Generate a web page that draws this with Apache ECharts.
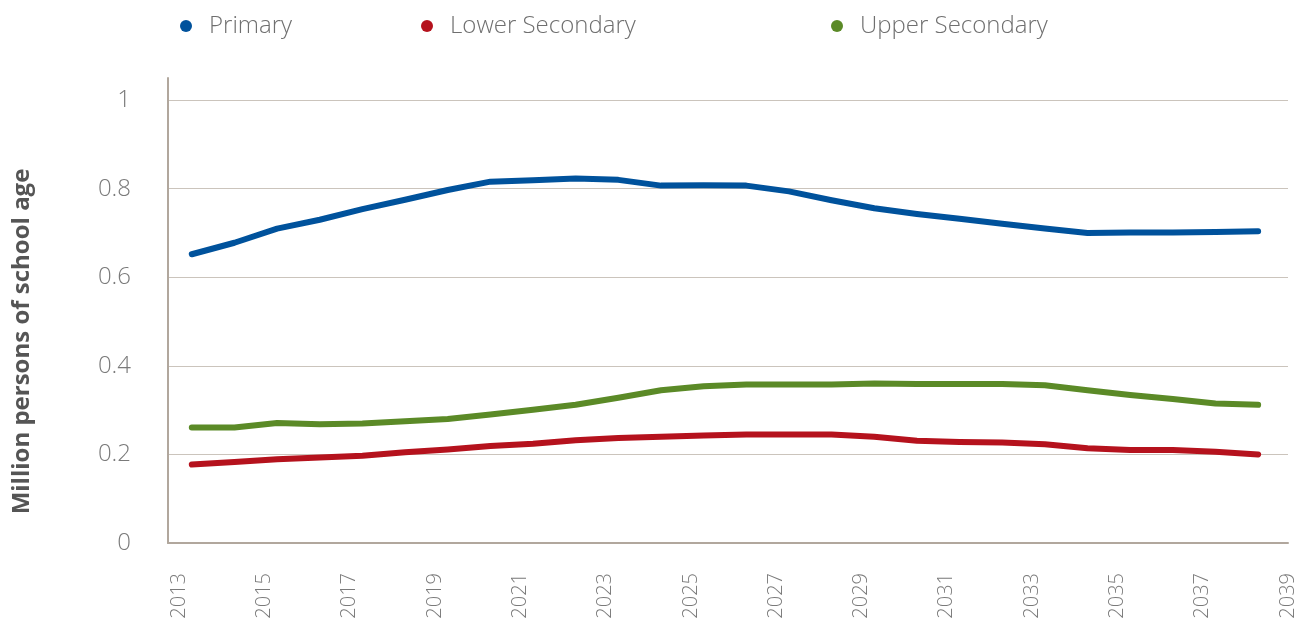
<!DOCTYPE html>
<html lang="en">
<head>
    <meta charset="UTF-8">
    <title>School age population</title>
    <script src="https://cdn.jsdelivr.net/npm/echarts@6/dist/echarts.min.js"></script>
    <style>
        html, body {
            margin: 0;
            height: 100%;
            background: #fff;
        }
    </style>
</head>
<body>
<div id="main" style="width: 1304px;height: 629px"></div>
</body>
</html>
<script>
    // annual values, million persons
    var years = [2013, 2014, 2015, 2016, 2017, 2018, 2019, 2020, 2021, 2022, 2023, 2024, 2025,
        2026, 2027, 2028, 2029, 2030, 2031, 2032, 2033, 2034, 2035, 2036, 2037, 2038];
    var primary = [0.652, 0.678, 0.710, 0.730, 0.754, 0.775, 0.797, 0.816, 0.819, 0.823, 0.820, 0.807, 0.808,
        0.807, 0.794, 0.774, 0.756, 0.743, 0.732, 0.721, 0.710, 0.700, 0.701, 0.701, 0.702, 0.704];
    var lowerSecondary = [0.177, 0.183, 0.189, 0.193, 0.197, 0.205, 0.211, 0.219, 0.224, 0.232, 0.237, 0.240, 0.243,
        0.245, 0.245, 0.245, 0.240, 0.231, 0.228, 0.227, 0.223, 0.214, 0.210, 0.210, 0.206, 0.200];
    var upperSecondary = [0.261, 0.261, 0.271, 0.268, 0.270, 0.275, 0.280, 0.290, 0.301, 0.312, 0.328, 0.345, 0.354,
        0.358, 0.358, 0.358, 0.360, 0.359, 0.359, 0.359, 0.356, 0.345, 0.334, 0.325, 0.315, 0.312];
    var yearTicks = [2013, 2015, 2017, 2019, 2021, 2023, 2025, 2027, 2029, 2031, 2033, 2035, 2037, 2039];
    var valueTicks = [0, 0.2, 0.4, 0.6, 0.8, 1];

    var font = 'Open Sans';
    // points sit a little past the year tick in the original
    var shift = 0.3;

    function pairs(vals) {
        var out = [];
        for (var i = 0; i < years.length; i++) {
            out.push([years[i] + shift, vals[i]]);
        }
        return out;
    }

    function lineSeries(name, color, vals) {
        return {
            name: name,
            type: 'line',
            showSymbol: false,
            symbol: 'circle',
            lineStyle: {color: color, width: 6, cap: 'round', join: 'round'},
            itemStyle: {color: color},
            data: pairs(vals)
        };
    }

    function legendAt(name, left) {
        return {
            data: [name],
            left: left,
            top: 9,
            icon: 'circle',
            itemWidth: 12,
            itemHeight: 12,
            selectedMode: false,
            textStyle: {color: '#6f6f6f', fontSize: 24, fontFamily: font, fontWeight: 300, padding: [0, 0, 0, 12]}
        };
    }

    var myChart = echarts.init(document.getElementById('main'));
    var option = {
        animation: false,
        legend: [
            legendAt('Primary', 175),
            legendAt('Lower Secondary', 416),
            legendAt('Upper Secondary', 826)
        ],
        grid: {left: 168, right: 16, top: 78, bottom: 86},
        xAxis: {
            type: 'value',
            min: 2012.742,
            max: 2039,
            axisLine: {show: true, lineStyle: {color: '#b1a79d', width: 2}},
            axisTick: {show: false, customValues: yearTicks},
            splitLine: {show: false},
            axisLabel: {
                customValues: yearTicks,
                formatter: function (v) {
                    return String(v);
                },
                rotate: 90,
                margin: 30,
                color: '#7a7a7a',
                fontSize: 20,
                fontFamily: font,
                fontWeight: 300
            }
        },
        yAxis: {
            type: 'value',
            min: 0,
            max: 1.05,
            name: 'Million persons of school age',
            nameLocation: 'middle',
            nameGap: 134,
            nameRotate: 90,
            nameTextStyle: {color: '#555', fontSize: 24, fontWeight: 'bold', fontFamily: font, padding: [0, 62, 0, 0]},
            axisLine: {show: true, lineStyle: {color: '#b1a79d', width: 2}},
            axisTick: {show: false, customValues: valueTicks},
            splitLine: {show: true, lineStyle: {color: '#cbc4bc', width: 1}},
            axisLabel: {
                customValues: valueTicks,
                margin: 37,
                color: '#7a7a7a',
                fontSize: 24,
                fontFamily: font,
                fontWeight: 300
            }
        },
        series: [
            lineSeries('Primary', '#00529c', primary),
            lineSeries('Lower Secondary', '#b5121d', lowerSecondary),
            lineSeries('Upper Secondary', '#5b8a27', upperSecondary)
        ]
    };
    myChart.setOption(option);
</script>
